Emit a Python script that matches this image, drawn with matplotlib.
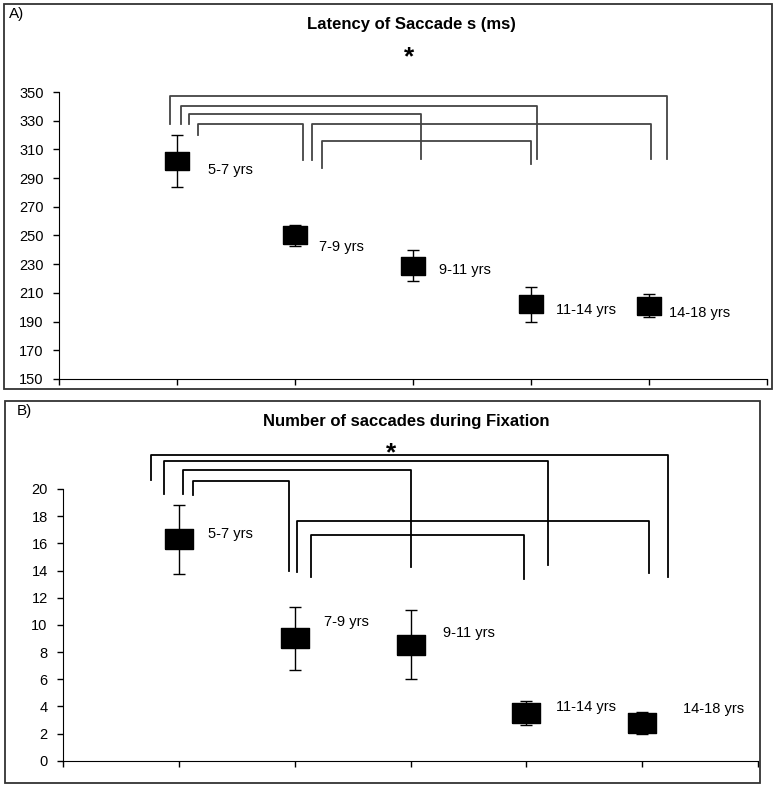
import matplotlib.pyplot as plt
from matplotlib.patches import Rectangle

plt.rcParams['font.family'] = ['Liberation Sans', 'DejaVu Sans']

groups = ["5-7 yrs", "7-9 yrs", "9-11 yrs", "11-14 yrs", "14-18 yrs"]

# panel A: latency of saccades (ms)
latency_mean = [302, 250, 229, 202, 201]
latency_err = [18, 7, 11, 12, 8]

# panel B: number of saccades during fixation
count_mean = [16.3, 9.0, 8.55, 3.5, 2.8]
count_err = [2.55, 2.3, 2.55, 0.88, 0.8]

# significance brackets: (x_left, x_right, y_top, y_left_end, y_right_end)
brackets_a = [
    (0.94, 5.15, 347.2, 327.7, 303.3),
    (1.03, 4.05, 340.2, 327.7, 303.3),
    (1.10, 3.07, 334.7, 327.7, 303.3),
    (1.18, 2.07, 327.7, 320.0, 302.6),
    (2.14, 5.02, 327.7, 302.6, 303.3),
    (2.23, 4.00, 315.9, 297.0, 299.8),
]
brackets_b = [
    (0.76, 5.22, 22.5, 20.66, 13.54),
    (0.875, 4.19, 22.06, 19.63, 14.4),
    (1.04, 3.0, 21.38, 19.6, 14.28),
    (1.12, 1.95, 20.59, 19.56, 13.96),
    (2.02, 5.06, 17.64, 13.89, 13.84),
    (2.14, 3.98, 16.61, 13.54, 13.37),
]

# label placement (x, y) in data units for each group
label_pos_a = [(1.26, 295.6), (2.20, 242.2), (3.22, 226), (4.21, 198), (5.17, 196)]
label_pos_b = [(1.25, 16.69), (2.25, 10.21), (3.28, 9.4), (4.26, 3.95), (5.35, 3.8)]

box = [(-1.35, -1), (1.35, -1), (1.35, 1), (-1.35, 1), (-1.35, -1)]

W, H = 776, 794
fig = plt.figure(figsize=(W / 100, H / 100), dpi=100)


def px_axes(left, top, right, bottom):
    return fig.add_axes([left / W, 1 - bottom / H, (right - left) / W, (bottom - top) / H])


def panel_border(left, top, right, bottom):
    fig.patches.append(Rectangle((left / W, 1 - bottom / H), (right - left) / W, (bottom - top) / H,
                                 transform=fig.transFigure, fill=False, edgecolor='#333333',
                                 linewidth=1.3))


def draw_panel(ax, means, errs, brackets, label_pos, ylim, yticks, color, msize):
    x = list(range(1, len(means) + 1))
    ax.errorbar(x, means, yerr=errs, fmt='none', ecolor='black', elinewidth=1.0,
                capsize=4, capthick=1.0, zorder=2)
    ax.plot(x, means, linestyle='none', marker=box, markersize=msize,
            color='black', zorder=3)
    for (xl, xr, yt, yl, yr) in brackets:
        ax.plot([xl, xl, xr, xr], [yl, yt, yt, yr], color=color, linewidth=1.3,
                clip_on=False, zorder=1)
    for g, (lx, ly) in zip(groups, label_pos):
        ax.text(lx, ly, g, fontsize=10.5, ha='left', va='center')
    ax.set_xlim(0, 6)
    ax.set_ylim(*ylim)
    ax.set_xticks(range(0, 7))
    ax.set_xticklabels([])
    ax.set_yticks(yticks)
    ax.spines['top'].set_visible(False)
    ax.spines['right'].set_visible(False)
    ax.tick_params(axis='both', direction='out', length=4, width=1, labelsize=10.5)
    ax.tick_params(axis='y', pad=7)


# panel A
panel_border(4, 4, 772, 389)
ax1 = px_axes(59, 92, 767, 379)
draw_panel(ax1, latency_mean, latency_err, brackets_a, label_pos_a,
           (150, 350), range(150, 351, 20), '#444444', 17)
fig.text(411 / W, 1 - 24 / H, "Latency of Saccade s (ms)", fontsize=12,
         fontweight='bold', ha='center', va='center')
fig.text(9 / W, 1 - 14 / H, "A)", fontsize=11, ha='left', va='center')
ax1.text(2.97, 374, "*", fontsize=19, fontweight='bold', ha='center', va='center',
         clip_on=False)

# panel B
panel_border(5, 401, 760, 783)
ax2 = px_axes(63, 489, 758, 760.7)
draw_panel(ax2, count_mean, count_err, brackets_b, label_pos_b,
           (0, 20), range(0, 21, 2), 'black', 20)
fig.text(406 / W, 1 - 421.7 / H, "Number of saccades during Fixation", fontsize=12,
         fontweight='bold', ha='center', va='center')
fig.text(17 / W, 1 - 411 / H, "B)", fontsize=11, ha='left', va='center')
ax2.text(2.83, 22.6, "*", fontsize=19, fontweight='bold', ha='center', va='center',
         clip_on=False)

fig.savefig("out.png", dpi=100)
